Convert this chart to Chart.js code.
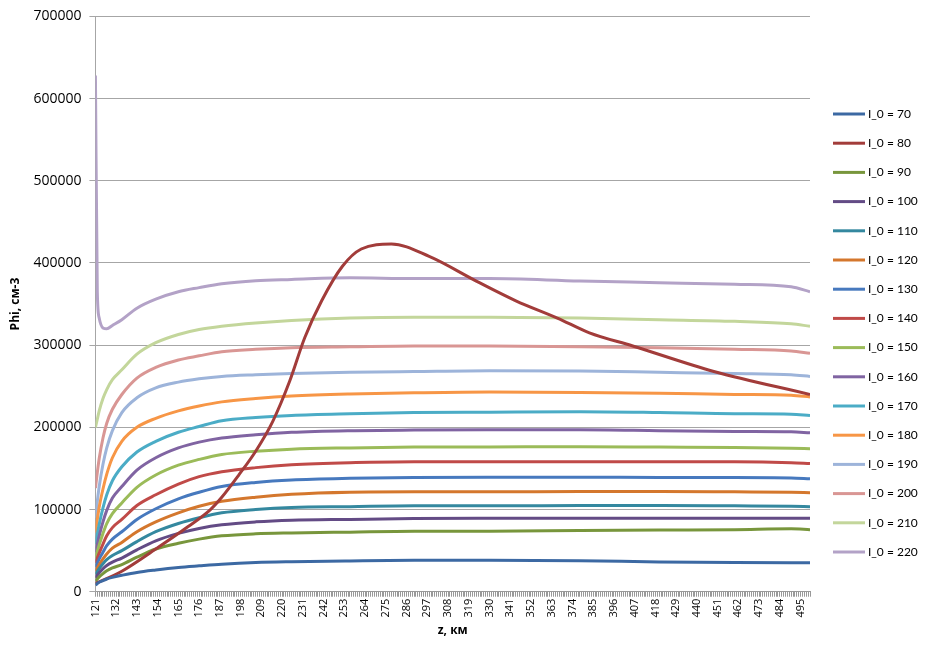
<!DOCTYPE html>
<html>
<head>
<meta charset="utf-8">
<script src="https://cdn.jsdelivr.net/npm/chart.js@4/dist/chart.umd.min.js"></script>
<style>
  html, body { margin: 0; padding: 0; background: #fff; }
  #wrap { width: 930px; height: 649px; }
</style>
</head>
<body>
<div id="wrap"><canvas id="chart" width="930" height="649"></canvas></div>
<script>
// z, km (shared sample points for most curves)
const zPoints = [121, 122, 123, 125, 127, 130, 135, 143, 153, 165, 176, 188, 206, 225, 256, 290, 330, 378, 420, 460, 490, 500];

const phi70  = [8000, 10000, 11500, 13500, 15500, 17500, 20000, 23500, 26500, 29500, 31500, 33500, 35500, 36500, 37500, 38300, 38400, 37800, 36300, 35600, 35400, 35400];
const phi90  = [13000, 15500, 18000, 22000, 25500, 29000, 33000, 42000, 52000, 59000, 64000, 68000, 70500, 71500, 72500, 73500, 73600, 74400, 75000, 75500, 76500, 75500];
const phi100 = [17000, 20000, 23000, 28000, 32000, 36000, 41000, 51000, 62000, 71000, 77000, 81500, 85000, 87000, 88000, 89000, 89400, 89500, 89500, 89500, 89400, 89400];
const phi110 = [21000, 24500, 28000, 34000, 39000, 44000, 50000, 61000, 73000, 83000, 90000, 96000, 100000, 102500, 103500, 104500, 104500, 104900, 105000, 104500, 104000, 103500];
const phi120 = [25000, 29000, 33000, 40000, 46000, 53000, 60000, 73000, 85000, 96000, 104000, 110000, 115000, 118500, 121000, 121500, 121500, 122000, 122000, 121500, 121000, 120500];
const phi130 = [30000, 35000, 40000, 48000, 56000, 64000, 73000, 88000, 101000, 113000, 121000, 128000, 133000, 136000, 138000, 139000, 139400, 139400, 139000, 139000, 138500, 137500];
const phi140 = [35000, 41000, 47000, 58000, 68000, 78000, 88000, 105000, 118000, 131000, 140000, 146000, 151000, 154500, 157000, 158000, 158200, 158200, 158000, 158000, 157000, 156000];
const phi150 = [41000, 49000, 57000, 71000, 83000, 95000, 108000, 127000, 142000, 154000, 161000, 167000, 171000, 173500, 175000, 176000, 176200, 176500, 176000, 175500, 174500, 174000];
const phi160 = [48000, 58000, 68000, 85000, 99000, 114000, 128000, 148000, 163000, 175000, 182000, 187000, 191000, 194000, 196000, 196700, 197000, 197000, 196000, 195000, 194500, 193500];
const phi170 = [58000, 70000, 82000, 102000, 118000, 135000, 152000, 170000, 183000, 194000, 201000, 208000, 212000, 214500, 216500, 218000, 218500, 219000, 218000, 216500, 216000, 214500];
const phi180 = [72000, 88000, 103000, 125000, 143000, 163000, 183000, 200000, 211000, 220000, 226000, 231000, 235000, 238000, 240500, 242000, 243000, 242500, 241500, 240000, 239000, 237000];
const phi190 = [90000, 110000, 128000, 155000, 175000, 196000, 218000, 236000, 248000, 255000, 259000, 262000, 264000, 265500, 267000, 268000, 269000, 268500, 267000, 265500, 264000, 262000];
const phi200 = [126000, 145000, 162000, 187000, 205000, 222000, 240000, 260000, 273000, 282000, 287000, 292000, 295000, 297000, 298000, 299000, 299000, 298000, 297000, 295000, 293000, 290000];
const phi210 = [200000, 210000, 220000, 235000, 246000, 258000, 270000, 289000, 303000, 313000, 319000, 323000, 327000, 330000, 333000, 334000, 334000, 333000, 331000, 329000, 326000, 323000];
const phi220 = [628000, 365000, 333000, 321000, 320000, 324000, 331000, 345000, 356000, 365000, 370000, 374800, 378500, 380000, 382000, 381000, 381000, 378000, 376000, 374000, 371000, 365000];

// I_0 = 80 has its own shape, so its own sample points
const z80   = [121, 135, 153, 170, 182, 188, 197, 206, 215, 224, 232, 241, 252, 262, 278, 298, 323, 344, 366, 383, 406, 449, 500];
const phi80 = [10000, 25000, 52000, 79000, 100000, 115000, 142000, 171000, 207000, 256000, 309000, 354000, 396000, 417000, 423000, 408000, 378000, 354000, 333000, 315000, 299000, 268000, 240000];

const seriesNames = ["I_0 = 70", "I_0 = 80", "I_0 = 90", "I_0 = 100", "I_0 = 110", "I_0 = 120", "I_0 = 130", "I_0 = 140",
  "I_0 = 150", "I_0 = 160", "I_0 = 170", "I_0 = 180", "I_0 = 190", "I_0 = 200", "I_0 = 210", "I_0 = 220"];
const seriesColors = ["#3C69A3", "#A23C3A", "#78963C", "#634B85", "#34889F", "#D4772D", "#4779BE", "#C04A48",
  "#9BBB59", "#8064A2", "#4BACC6", "#F79646", "#9DB4DA", "#D99694", "#C3D69B", "#B3A2C7"];

const yTicks = [0, 100000, 200000, 300000, 400000, 500000, 600000, 700000];

function toPoints(xs, ys) {
  return xs.map((x, i) => ({ x: x, y: ys[i] }));
}

const seriesData = [
  toPoints(zPoints, phi70), toPoints(z80, phi80), toPoints(zPoints, phi90), toPoints(zPoints, phi100),
  toPoints(zPoints, phi110), toPoints(zPoints, phi120), toPoints(zPoints, phi130), toPoints(zPoints, phi140),
  toPoints(zPoints, phi150), toPoints(zPoints, phi160), toPoints(zPoints, phi170), toPoints(zPoints, phi180),
  toPoints(zPoints, phi190), toPoints(zPoints, phi200), toPoints(zPoints, phi210), toPoints(zPoints, phi220),
];

const datasets = seriesNames.map((name, i) => ({
  label: name,
  data: seriesData[i],
  borderColor: seriesColors[i],
  backgroundColor: seriesColors[i],
  borderWidth: 3,
  pointRadius: 0,
  cubicInterpolationMode: "monotone",
  fill: false,
}));

// Legend on the right, drawn like the Excel one (short line + label)
const sideLegend = {
  id: "sideLegend",
  afterDraw(chart) {
    const ctx = chart.ctx;
    const x0 = chart.chartArea.right + 23;
    const top = 114;
    const step = 29.2;
    ctx.save();
    ctx.font = "12px Lato";
    ctx.textBaseline = "middle";
    ctx.fillStyle = "#000";
    chart.data.datasets.forEach((ds, i) => {
      const y = top + i * step;
      ctx.strokeStyle = ds.borderColor;
      ctx.lineWidth = 3;
      ctx.beginPath();
      ctx.moveTo(x0, y);
      ctx.lineTo(x0 + 32, y);
      ctx.stroke();
      ctx.fillText(ds.label, x0 + 35, y);
    });
    ctx.restore();
  },
};

const config = {
  type: "line",
  data: { datasets: datasets },
  plugins: [sideLegend],
  options: {
    responsive: false,
    animation: false,
    layout: { padding: { top: 10, left: 4, right: 120, bottom: 7 } },
    plugins: {
      legend: { display: false },
      tooltip: { enabled: false },
    },
    scales: {
      x: {
        type: "linear",
        min: 121,
        max: 500,
        afterBuildTicks: (scale) => {
          const t = [];
          for (let v = 121; v <= 500; v++) t.push({ value: v });
          scale.ticks = t;
        },
        ticks: {
          autoSkip: false,
          minRotation: 90,
          maxRotation: 90,
          padding: 2,
          color: "#000",
          font: { family: "Open Sans", size: 11 },
          callback: (v) => ((v - 121) % 11 === 0 ? String(v) : ""),
        },
        grid: { drawOnChartArea: false, drawTicks: true, tickLength: 5, color: "#999" },
        border: { color: "#999" },
        title: {
          display: true,
          text: "z, км",
          color: "#000",
          font: { family: "Open Sans", size: 12, weight: "bold" },
          padding: { top: 4 },
        },
      },
      y: {
        min: 0,
        max: 700000,
        afterBuildTicks: (scale) => {
          scale.ticks = yTicks.map((v) => ({ value: v }));
        },
        ticks: {
          color: "#000",
          padding: 8,
          font: { family: "Open Sans", size: 14 },
          callback: (v) => String(v),
        },
        grid: { color: "#a6a6a6", tickLength: 6, drawTicks: true },
        border: { color: "#a6a6a6" },
        title: {
          display: true,
          text: "Phi, см-3",
          color: "#000",
          font: { family: "Open Sans", size: 12, weight: "bold" },
          padding: { bottom: 3 },
        },
      },
    },
  },
};

new Chart(document.getElementById("chart"), config);
</script>
</body>
</html>
